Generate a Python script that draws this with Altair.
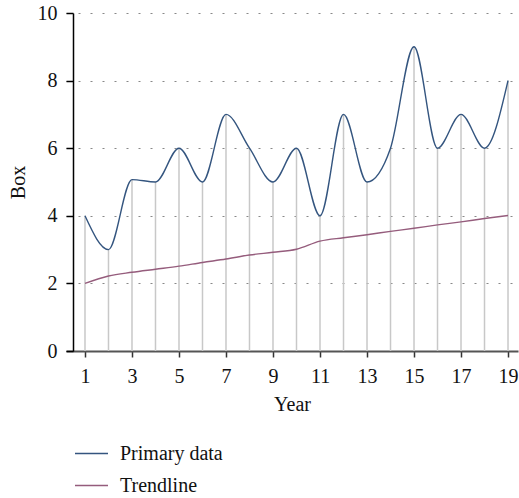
import altair as alt
import pandas as pd

years = list(range(1, 20))
primary = [4, 3, 5.07, 5, 6, 5, 7, 6, 5, 6, 4, 7, 5, 6, 9, 6, 7, 6, 8]
trend = [2.0, 2.22, 2.33, 2.42, 2.51, 2.62, 2.72, 2.84, 2.92, 3.01,
         3.25, 3.35, 3.44, 3.54, 3.63, 3.73, 3.82, 3.92, 4.01]
series_names = ["Primary data", "Trendline"]
series_colors = ["#34557f", "#955c7c"]
x_ticks = [1, 3, 5, 7, 9, 11, 13, 15, 17, 19]
y_ticks = [0, 2, 4, 6, 8, 10]

FONT = "Liberation Serif"
FS = 20

drops = pd.DataFrame({"Year": years, "Value": primary})
lines = pd.DataFrame({
    "Year": years + years,
    "Value": primary + trend,
    "Series": [series_names[0]] * len(years) + [series_names[1]] * len(years),
})

xscale = alt.Scale(domain=[0.192, 19.425], nice=False, zero=False)
yscale = alt.Scale(domain=[0, 10], nice=False)

xaxis = alt.Axis(values=x_ticks, title="Year", grid=False, domainColor="#555555",
                 domainWidth=2, tickColor="#333333", tickSize=6, tickWidth=1.5,
                 labelPadding=9, titlePadding=8, labelFontSize=FS, titleFontSize=FS,
                 labelFont=FONT, titleFont=FONT, labelColor="#111111",
                 titleColor="#111111", titleFontWeight="normal")
yaxis = alt.Axis(values=y_ticks, title="Box", grid=True, gridDash=[2, 10],
                 gridColor="#888888", gridWidth=1.2, domainColor="#000000",
                 domainWidth=1.5, tickColor="#000000", tickSize=7, tickWidth=1.5,
                 labelPadding=9, titlePadding=9, labelFontSize=FS, titleFontSize=FS,
                 labelFont=FONT, titleFont=FONT, labelColor="#111111",
                 titleColor="#111111", titleFontWeight="normal", offset=-7)

rules = alt.Chart(drops).mark_rule(color="#c8c8c8", strokeWidth=1.5).encode(
    x=alt.X("Year:Q", scale=xscale, axis=xaxis),
    y=alt.Y("Value:Q", scale=yscale, axis=yaxis),
    y2=alt.datum(0),
)

line_chart = alt.Chart(lines).mark_line(interpolate="monotone", strokeWidth=1.4).encode(
    x=alt.X("Year:Q", scale=xscale),
    y=alt.Y("Value:Q", scale=yscale),
    color=alt.Color("Series:N",
                    scale=alt.Scale(domain=series_names, range=series_colors),
                    legend=alt.Legend(title=None, orient="none", legendX=8, legendY=423,
                                      direction="vertical", symbolType="stroke",
                                      symbolSize=1089, symbolStrokeWidth=1.4,
                                      labelFont=FONT, labelFontSize=FS,
                                      labelColor="#111111", labelOffset=11,
                                      rowPadding=4)),
)

chart = alt.layer(rules, line_chart).properties(
    width=452, height=338,
    padding={"left": 66, "top": 13, "right": 1, "bottom": 147},
    autosize=alt.AutoSizeParams(type="none"),
).configure_view(stroke=None)

chart.save("out.html", embed_options={"renderer": "svg", "actions": False})
